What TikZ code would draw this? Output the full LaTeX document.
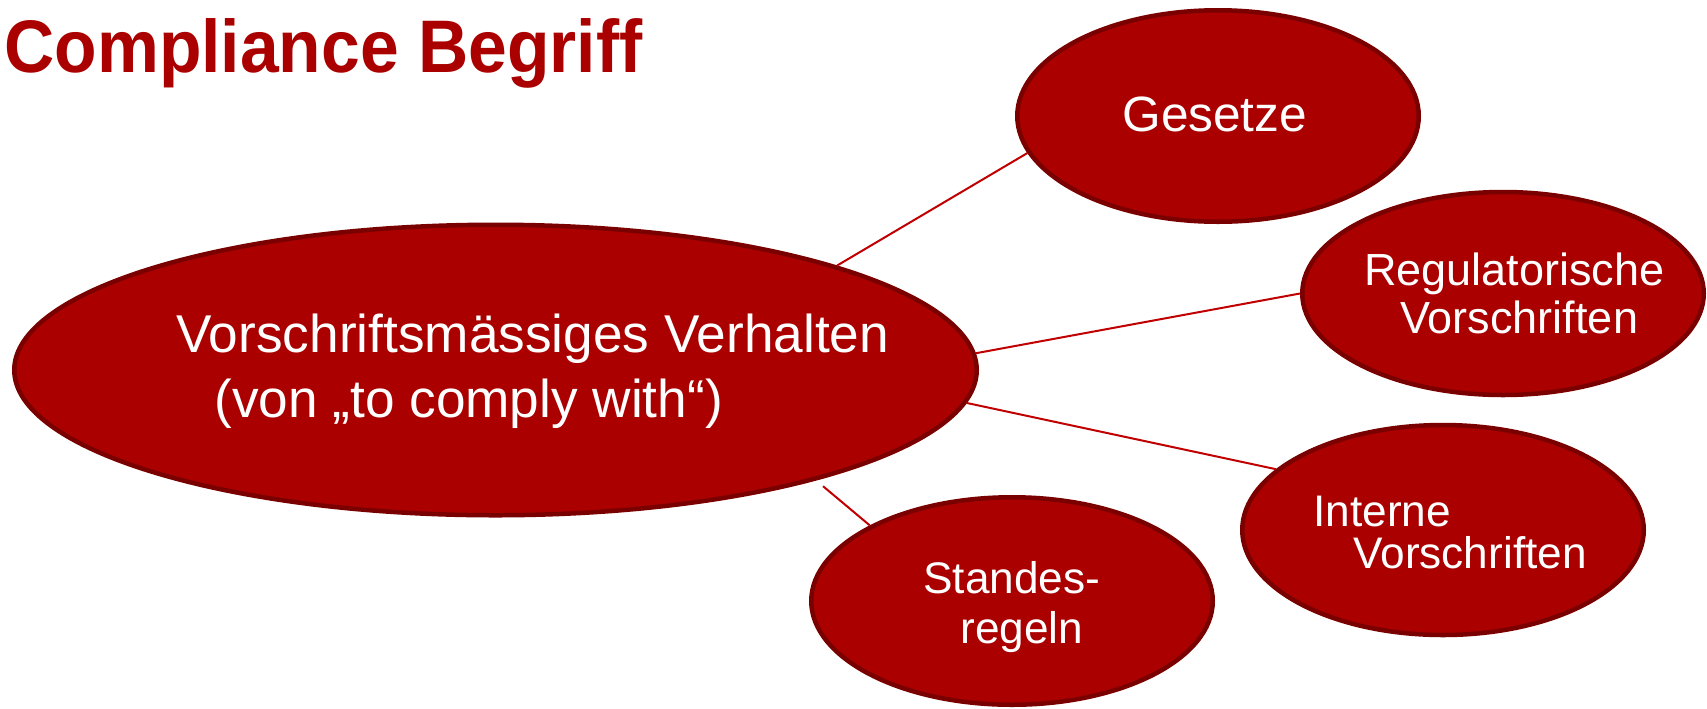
\documentclass[tikz,border=0pt]{standalone}
\usepackage{fontspec}
\setmainfont{Liberation Sans}
\usetikzlibrary{shapes.geometric}
\definecolor{bubble}{HTML}{AA0000}
\definecolor{bubbleedge}{HTML}{7A0000}
\definecolor{linkred}{HTML}{C00000}
\definecolor{titlered}{HTML}{AA0000}

\begin{document}
\begin{tikzpicture}[x=0.5pt,y=-0.5pt,
  bubble/.style={ellipse, draw=bubbleedge, fill=bubble, line width=2.25pt, inner sep=0pt},
  sat/.style={bubble, minimum width=200.75pt, minimum height=103.75pt},
  txt/.style={text=white, anchor=base west, inner sep=0pt},
  link/.style={draw=linkred, line width=1pt}]
\useasboundingbox (0,0) rectangle (1707,708);

% title
\node[anchor=base west, inner sep=0pt, text=titlered,
      font=\bfseries\fontsize{34.8pt}{40pt}\selectfont] (title) at (4,72)
  {\scalebox{1}[1.07]{Compliance Begriff}};

% bubbles
\node[bubble, minimum width=481.25pt, minimum height=145.25pt] (main) at (495.5,370) {};
\node[sat, minimum height=105.75pt] (ges) at (1218,116) {};
\node[sat, minimum height=101.5pt] (reg) at (1503,293.5) {};
\node[sat, minimum height=105pt] (int) at (1443,530) {};
\node[sat] (std) at (1012,601) {};

% connectors
\draw[link] (main.17.8) -- (ges.191.1);
\draw[link] (main.2.4) -- (reg.180.6);
\draw[link] (main.-4) -- (int.160.4);
\draw[link, shorten <=4.5pt] (main.-19.2) -- (std.152.5);

% labels
\begin{scope}[font=\fontsize{26.6pt}{32pt}\selectfont]
\node[txt] (mainA) at (176,352) {Vorschriftsmässiges Verhalten};
\node[txt] (mainB) at (214,417) {(von „to comply with“)};
\end{scope}
\node[txt, font=\fontsize{24.8pt}{30pt}\selectfont] (gesT) at (1122,131) {Gesetze};
\begin{scope}[font=\fontsize{22.5pt}{27pt}\selectfont]
\node[txt] (regA) at (1364,285) {Regulatorische};
\node[txt] (regB) at (1400,333) {Vorschriften};
\end{scope}
\begin{scope}[font=\fontsize{22.1pt}{27pt}\selectfont]
\node[txt] (intA) at (1313,526) {Interne};
\node[txt] (intB) at (1353,568) {Vorschriften};
\node[txt] (stdA) at (923,593) {Standes-};
\node[txt] (stdB) at (960,643) {regeln};
\end{scope}
\end{tikzpicture}
\end{document}
